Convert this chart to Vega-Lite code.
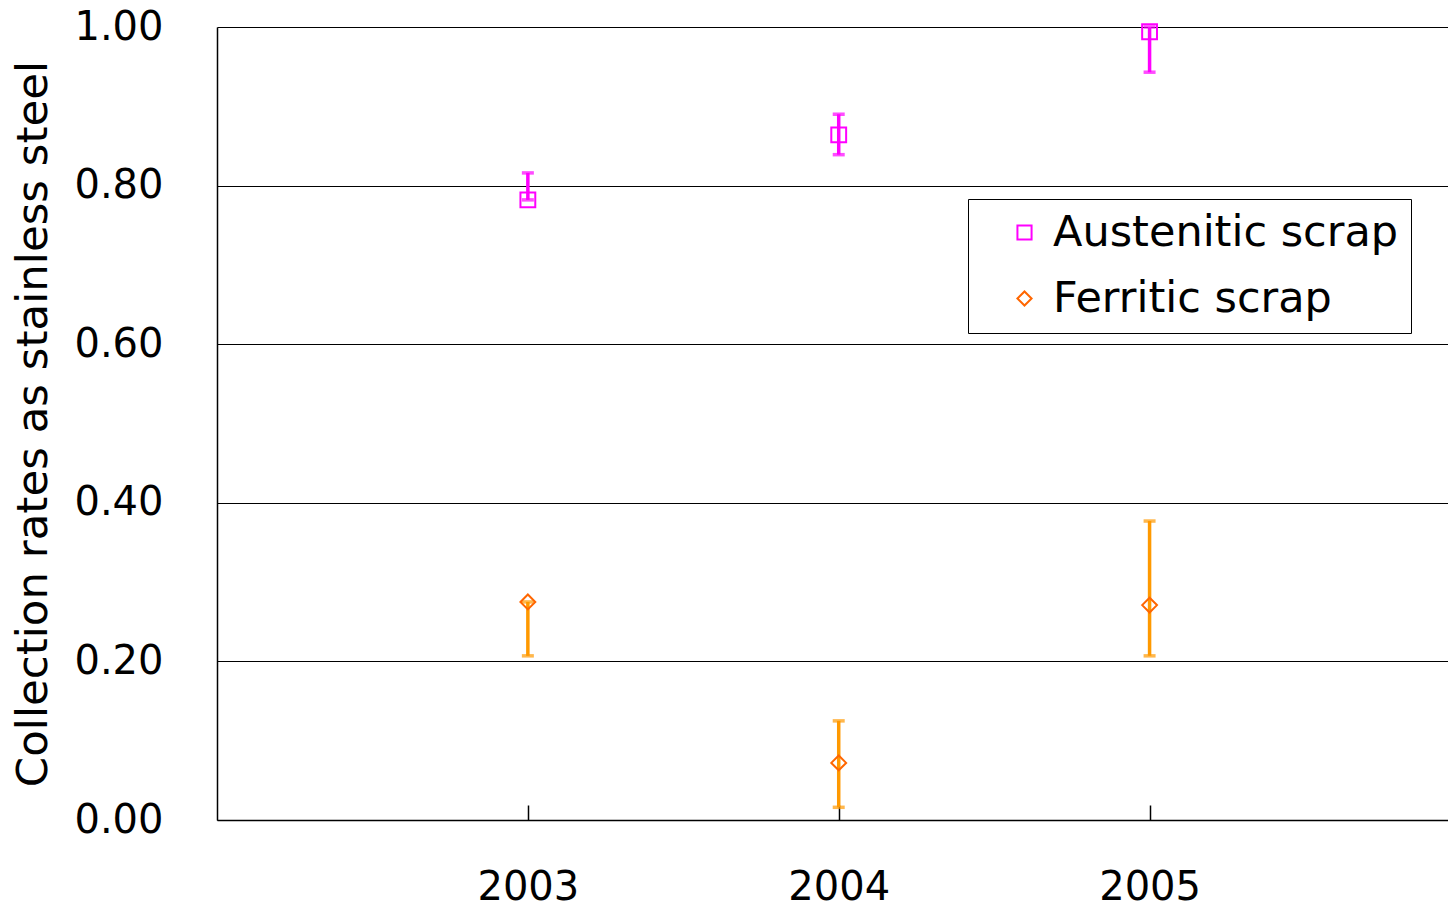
{
  "$schema": "https://vega.github.io/schema/vega-lite/v6.json",
  "width": 1231,
  "height": 793,
  "autosize": {"type": "none"},
  "padding": {"left": 217, "top": 27, "right": 0, "bottom": 87},
  "background": "white",
  "config": {
    "view": {"stroke": null},
    "font": "DejaVu Sans",
    "axis": {"labelFont": "DejaVu Sans", "titleFont": "DejaVu Sans", "labelColor": "black", "titleColor": "black"}
  },
  "data": {
    "values": [
      {"series": "Austenitic scrap", "year": 2003, "value": 0.782, "lo": 0.782, "hi": 0.816},
      {"series": "Austenitic scrap", "year": 2004, "value": 0.864, "lo": 0.839, "hi": 0.890},
      {"series": "Austenitic scrap", "year": 2005, "value": 0.994, "lo": 0.943, "hi": 1.0},
      {"series": "Ferritic scrap", "year": 2003, "value": 0.275, "lo": 0.207, "hi": 0.275},
      {"series": "Ferritic scrap", "year": 2004, "value": 0.072, "lo": 0.016, "hi": 0.125},
      {"series": "Ferritic scrap", "year": 2005, "value": 0.271, "lo": 0.207, "hi": 0.377}
    ]
  },
  "encoding": {
    "x": {
      "field": "year", "type": "quantitative",
      "scale": {"domain": [2002, 2005.96], "nice": false, "zero": false},
      "axis": {
        "title": null, "values": [2003, 2004, 2005], "format": "d", "grid": false,
        "tickSize": -15, "tickColor": "black", "tickWidth": 1.5,
        "domainColor": "black", "domainWidth": 1.5,
        "labelFontSize": 40, "labelPadding": 62
      }
    }
  },
  "layer": [
    {
      "mark": {"type": "rule", "strokeWidth": 3.5},
      "encoding": {
        "y": {
          "field": "lo", "type": "quantitative",
          "scale": {"domain": [0, 1], "nice": false},
          "axis": {
            "title": "Collection rates as stainless steel",
            "titleFontSize": 43.5, "titleFontWeight": "normal", "titlePadding": 18,
            "values": [0, 0.2, 0.4, 0.6, 0.8, 1.0], "format": ".2f",
            "labelFontSize": 40, "labelPadding": 54, "ticks": false,
            "grid": true, "gridColor": "black", "gridWidth": 1, "gridOpacity": 1,
            "domainColor": "black", "domainWidth": 1.5
          }
        },
        "y2": {"field": "hi"},
        "color": {
          "condition": {"test": "datum.series === 'Ferritic scrap'", "value": "#FF9900"},
          "value": "#FF00FF"
        }
      }
    },
    {
      "mark": {"type": "tick", "orient": "horizontal", "size": 12, "thickness": 3.5},
      "encoding": {
        "y": {"field": "lo", "type": "quantitative"},
        "color": {
          "condition": {"test": "datum.series === 'Ferritic scrap'", "value": "#FF9900"},
          "value": "#FF00FF"
        }
      }
    },
    {
      "mark": {"type": "tick", "orient": "horizontal", "size": 12, "thickness": 3.5},
      "encoding": {
        "y": {"field": "hi", "type": "quantitative"},
        "color": {
          "condition": {"test": "datum.series === 'Ferritic scrap'", "value": "#FF9900"},
          "value": "#FF00FF"
        }
      }
    },
    {
      "mark": {"type": "point", "filled": false, "strokeWidth": 2, "size": 220, "opacity": 1},
      "encoding": {
        "y": {"field": "value", "type": "quantitative"},
        "color": {
          "field": "series", "type": "nominal",
          "scale": {"domain": ["Austenitic scrap", "Ferritic scrap"], "range": ["#FF00FF", "#FF6600"]},
          "legend": {
            "title": null, "orient": "none", "legendX": 751, "legendY": 172,
            "strokeColor": "black", "fillColor": "white", "padding": 12,
            "labelFontSize": 43, "labelFont": "DejaVu Sans", "labelColor": "black",
            "labelOffset": 7, "rowPadding": 22, "symbolOffset": 23,
            "symbolSize": 200, "symbolStrokeWidth": 2, "labelLimit": 600
          }
        },
        "shape": {
          "field": "series", "type": "nominal",
          "scale": {"domain": ["Austenitic scrap", "Ferritic scrap"], "range": ["square", "diamond"]},
          "legend": null
        }
      }
    }
  ]
}
